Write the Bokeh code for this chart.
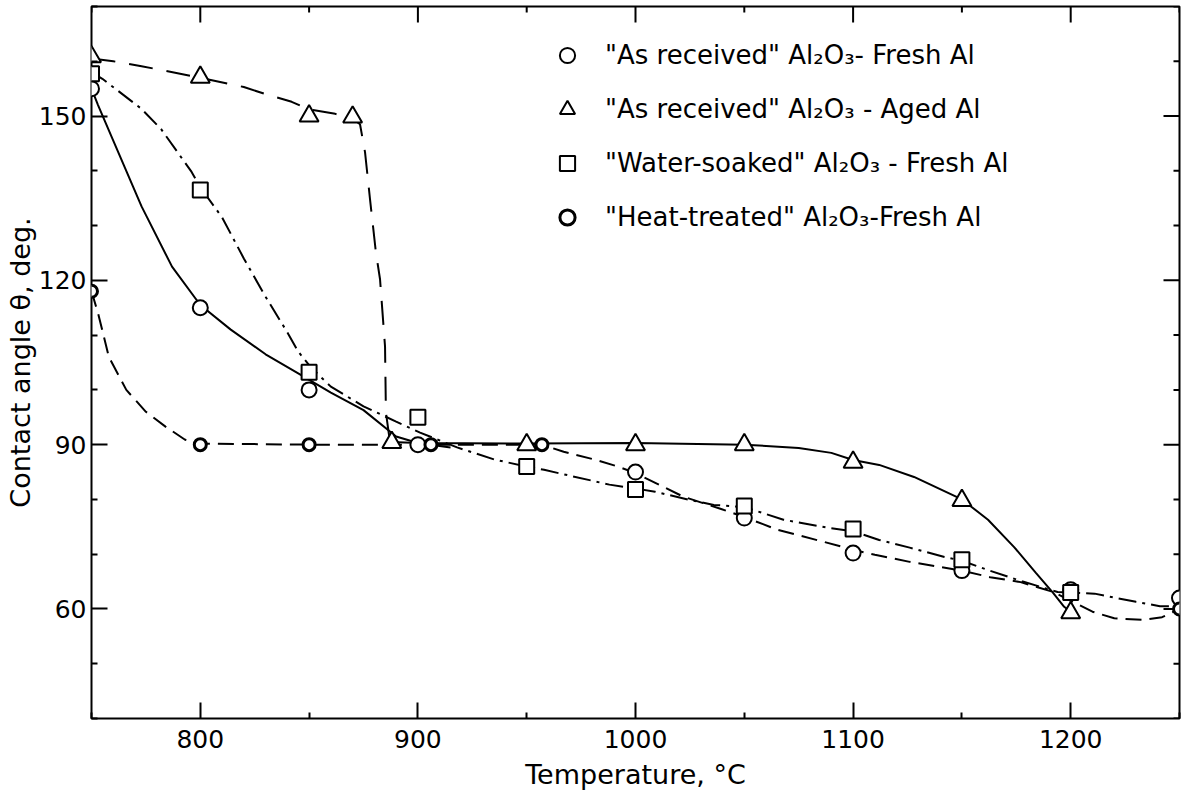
import math
from bokeh.plotting import figure
from bokeh.models import FixedTicker, Range1d, Legend, LegendItem
from bokeh.core.properties import value
from bokeh.embed import file_html
from bokeh.resources import INLINE

# ---------------- data ----------------
# measured points
fresh_x = [750, 800, 850, 900, 1000, 1050, 1100, 1150, 1200, 1250]
fresh_y = [155, 115, 100, 90, 85, 76.6, 70.2, 67, 63.5, 62]

aged_x = [750, 800, 850, 870, 888, 950, 1000, 1050, 1100, 1150, 1200]
aged_y = [160.8, 157.1, 150, 149.8, 90.4, 90, 90, 90, 86.8, 79.8, 59.3]

soaked_x = [750, 800, 850, 900, 950, 1000, 1050, 1100, 1150, 1200]
soaked_y = [157.7, 136.5, 103.2, 95, 86, 81.8, 78.8, 74.6, 69, 63]

heat_x = [750, 800, 850, 906, 957, 1250]
heat_y = [118, 90, 90, 90, 90, 60]

# hand-drawn curves
fresh_curve_x = [750, 753, 760, 773, 787, 800, 814, 830, 845, 860, 875, 890, 900, 915]
fresh_curve_y = [155, 152, 145.5, 133.5, 122.5, 115.5, 111, 106.5, 103, 99.5, 96.3, 91.5, 90.3, 89.5]

heat_curve_x = [750, 753, 758, 766, 775, 784, 793, 800, 850, 906, 957, 967, 981, 992,
                1000, 1022, 1039, 1050, 1065, 1087, 1100, 1110, 1126, 1150, 1163,
                1177, 1192, 1200, 1210, 1220, 1233, 1242, 1250]
heat_curve_y = [118, 114, 106, 100, 96, 93.3, 90.9, 90.2, 90, 90, 90, 88.7, 87.3, 86,
                84.8, 80.5, 78.3, 76.8, 74.5, 72.2, 70.8, 69.9, 68.6, 67, 65.8,
                64.9, 63.1, 61.5, 59.5, 58.3, 58, 58.5, 60]

soaked_curve_x = [750, 755, 773, 782, 796, 800, 810, 820, 830, 840, 845, 850, 855, 860,
                  875, 890, 901, 918, 935, 950, 958, 988, 1000, 1009, 1024, 1036, 1050,
                  1068, 1089, 1100, 1112, 1126, 1142, 1150, 1162, 1178, 1194, 1200,
                  1211, 1230, 1241, 1250]
soaked_curve_y = [158, 156.8, 151.3, 147.6, 139.8, 137, 131.5, 124, 117, 110.5, 107, 104.5,
                  102.5, 100.6, 97, 94.2, 92.2, 89.5, 87.3, 86, 85.4, 82.7, 82, 81.4, 80,
                  79, 78.6, 76.3, 74.8, 74.2, 72.6, 71.2, 69.5, 68.8, 67.1, 65, 63.1, 63,
                  62.8, 61.3, 60.5, 60.5]

aged_dash_x = [750, 760, 773, 782, 800, 820, 830, 842, 850, 862, 870, 873.4, 875.7, 878,
               880.7, 882.6, 884.9, 885.3, 887]
aged_dash_y = [160.5, 160, 159.1, 158.4, 157, 155.3, 154, 152.6, 151.2, 150.4, 149.5, 148.5,
               143.4, 134.8, 125.1, 120.2, 107.9, 95.9, 91]

aged_solid_x = [888, 900, 950, 1000, 1050, 1075, 1090, 1100, 1112, 1128, 1150, 1162, 1174,
                1184, 1192, 1197, 1200]
aged_solid_y = [90.5, 90.3, 90.2, 90.3, 90, 89.4, 88.5, 87.2, 86.3, 84.1, 80, 76.3, 71.3,
                66.6, 62.9, 60.4, 59.5]

x_lim = [750, 1250]
y_lim = [40, 170]
x_major = [800, 900, 1000, 1100, 1200]
x_minor = [750, 850, 950, 1050, 1150, 1250]
y_major = [60, 90, 120, 150]
y_minor = [40, 50, 70, 80, 100, 110, 130, 140, 160, 170]

labels = ['"As received" Al₂O₃- Fresh Al',
          '"As received" Al₂O₃ - Aged Al',
          '"Water-soaked" Al₂O₃ - Fresh Al',
          '"Heat-treated" Al₂O₃-Fresh Al']

FONT = "DejaVu Sans"
MAJ = 16   # inward tick length (px)
MIN = 6

p = figure(width=1181, height=796, output_backend="svg", toolbar_location=None,
           x_range=Range1d(*x_lim), y_range=Range1d(*y_lim),
           min_border_left=91, min_border_right=2, min_border_top=6, min_border_bottom=78)
p.grid.visible = False
p.outline_line_color = "black"
p.outline_line_width = 2
p.background_fill_color = "white"
p.border_fill_color = "white"

for ax, ticks, minor in ((p.xaxis[0], x_major, x_minor), (p.yaxis[0], y_major, y_minor)):
    ax.ticker = FixedTicker(ticks=ticks, minor_ticks=minor)
    ax.axis_line_color = None
    ax.major_tick_in = MAJ
    ax.major_tick_out = 0
    ax.minor_tick_in = MIN
    ax.minor_tick_out = 0
    ax.major_tick_line_width = 2
    ax.minor_tick_line_width = 2
    ax.major_tick_line_color = "black"
    ax.minor_tick_line_color = "black"
    ax.major_label_text_font = FONT
    ax.major_label_text_font_size = "25px"
    ax.major_label_text_color = "black"
    ax.axis_label_text_font = FONT
    ax.axis_label_text_font_size = "27px"
    ax.axis_label_text_font_style = "normal"
    ax.axis_label_text_color = "black"

xa = p.xaxis[0]
ya = p.yaxis[0]
xa.axis_label = "Temperature, °C"
xa.major_label_standoff = 11
xa.axis_label_standoff = 8
ya.axis_label = "Contact angle θ, deg."
ya.major_label_standoff = 5
ya.axis_label_standoff = 0
ya.major_label_orientation = "horizontal"

# inward ticks on the top and right edges (markers centred on the frame edge, clipped to it)
tick_kw = dict(marker="dash", line_color="black", line_width=2)
p.scatter(x_major, [y_lim[1]] * len(x_major), size=2 * MAJ, angle=math.pi / 2, **tick_kw)
p.scatter(x_minor, [y_lim[1]] * len(x_minor), size=2 * MIN, angle=math.pi / 2, **tick_kw)
p.scatter([x_lim[1]] * len(y_major), y_major, size=2 * MAJ, **tick_kw)
p.scatter([x_lim[1]] * len(y_minor), y_minor, size=2 * MIN, **tick_kw)

# curves
p.line(fresh_curve_x, fresh_curve_y, line_color="black", line_width=2)
p.line(heat_curve_x, heat_curve_y, line_color="black", line_width=2, line_dash="16 8")
p.line(soaked_curve_x, soaked_curve_y, line_color="black", line_width=2, line_dash="18 6 3 6")
p.line(aged_dash_x, aged_dash_y, line_color="black", line_width=2, line_dash="24 14")
p.line(aged_solid_x, aged_solid_y, line_color="black", line_width=2)

# markers
r_fresh = p.scatter(fresh_x, fresh_y, marker="circle", size=15, fill_color="white",
                    line_color="black", line_width=2)
r_aged = p.scatter(aged_x, aged_y, marker="triangle", size=19, fill_color="white",
                   line_color="black", line_width=2)
r_soaked = p.scatter(soaked_x, soaked_y, marker="square", size=15, fill_color="white",
                     line_color="black", line_width=2)
r_heat = p.scatter(heat_x, heat_y, marker="circle", size=12, fill_color="white",
                   line_color="black", line_width=3)

legend = Legend(items=[LegendItem(label=value(labels[0]), renderers=[r_fresh]),
                       LegendItem(label=value(labels[1]), renderers=[r_aged]),
                       LegendItem(label=value(labels[2]), renderers=[r_soaked]),
                       LegendItem(label=value(labels[3]), renderers=[r_heat])],
                location=(457, 482))
legend.glyph_width = 38
legend.glyph_height = 38
legend.label_height = 38
legend.spacing = 16
legend.padding = 0
legend.margin = 0
legend.label_standoff = 19
legend.label_text_font = FONT
legend.label_text_font_size = "26px"
legend.label_text_color = "black"
legend.border_line_color = None
legend.background_fill_alpha = 0
p.add_layout(legend, "center")

open("out.html", "w").write(file_html(p, INLINE))
